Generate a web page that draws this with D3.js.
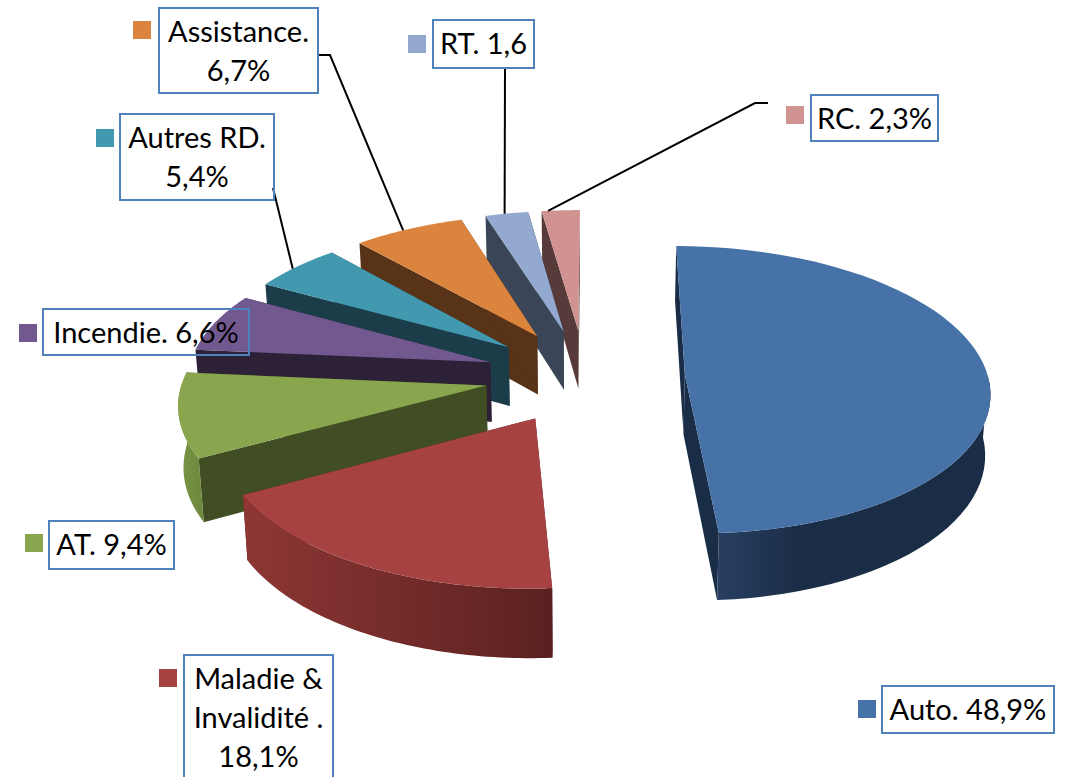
<!DOCTYPE html>
<html>
<head>
<meta charset="utf-8">
<script src="https://cdn.jsdelivr.net/npm/d3@7"></script>
<style>
  html, body { margin: 0; padding: 0; background: #fff; overflow: hidden; }
  text { font-family: Lato, "Open Sans", sans-serif; fill: #000; }
</style>
</head>
<body>
<div id="chart"></div>
<script>
// Chart values, clockwise from twelve o'clock
const categories = ['Auto', 'Maladie & Invalidité', 'AT', 'Incendie', 'Autres RD', 'Assistance', 'RT', 'RC'];
// RT is labelled 1,6 but its slice is drawn wider than RC, about 2,6
const shares = [48.9, 18.1, 9.4, 6.6, 5.4, 6.7, 2.6, 2.3];
const labelLines = [
  ['Auto. 48,9%'],
  ['Maladie &', 'Invalidité .', '18,1%'],
  ['AT. 9,4%'],
  ['Incendie. 6,6%'],
  ['Autres RD.', '5,4%'],
  ['Assistance.', '6,7%'],
  ['RT. 1,6'],
  ['RC. 2,3%']
];

// Office style colours: top face, dark radial face, outer wall light and dark end
const topColors = ['#4672a8', '#a64342', '#89a54e', '#71588f', '#4198af', '#db843d', '#93a9cf', '#d19392'];
const sideColors = ['#1a2d47', '#5a2120', '#414d23', '#2c2137', '#1a3d49', '#593318', '#3a4557', '#573a3a'];
const wallLight = ['#283f62', '#8e3734', '#7a9645', '#5c4775', '#347c8e', '#b56c30', '#7a8cab', '#ac7979'];
const wallDark = ['#1a2d46', '#5a2120', '#6f8a3f', '#4d3b62', '#2c6a79', '#a05f2b', '#6b7b96', '#976a6a'];

// Label boxes, legend keys and leader lines (layout only)
const boxes = [
  { x: 882, y: 686, w: 172, h: 47, kx: 858, ky: 700 },
  { x: 184, y: 655, w: 149, h: 130, kx: 159, ky: 669 },
  { x: 49, y: 521, w: 125, h: 48, kx: 25, ky: 534 },
  { x: 43, y: 309, w: 206, h: 46, kx: 19, ky: 324 },
  { x: 120, y: 114, w: 154, h: 86, kx: 96, ky: 129 },
  { x: 159, y: 8, w: 159, h: 85, kx: 133, ky: 21 },
  { x: 433, y: 20, w: 101, h: 48, kx: 408, ky: 35 },
  { x: 811, y: 95, w: 127, h: 46, kx: 786, ky: 106 }
];
const leaders = [
  { slice: 4, at: 0.45, to: [[273, 188]] },
  { slice: 5, at: 0.45, to: [[330, 55], [318, 55]] },
  { slice: 6, at: 0.45, to: [[505, 68]] },
  { slice: 7, at: 0.17, to: [[755, 103], [768, 103]] }
];

const width = 1068;
const height = 777;
const fontSize = 29;
const lineHeight = 39;
const keySize = 18;

// Pie geometry: radius and explosion in world units, then a small perspective
const radius = 303;
const explode = 100;
const thickness = 60;
const centerX = 585;
const centerY = 376;
const tilt = 0.47;
const perspective = 0.00035;
const depthShrink = 0.00022;
const firstAngle = 0.2 * Math.PI / 180;

function project(x, y, z) {
  const w = 1 + perspective * y;
  return [centerX + x / w * (1 - depthShrink * z), centerY - tilt * y / w + z / w];
}

const arcs = d3.pie()
  .value(d => d)
  .sort(null)
  .startAngle(firstAngle)
  .endAngle(firstAngle + 2 * Math.PI)(shares);

arcs.forEach(d => {
  const mid = (d.startAngle + d.endAngle) / 2;
  d.apexX = explode * Math.sin(mid);
  d.apexY = explode * Math.cos(mid);
});

function rimPoint(d, angle, z) {
  return project(d.apexX + radius * Math.sin(angle), d.apexY + radius * Math.cos(angle), z);
}

function apexPoint(d, z) {
  return project(d.apexX, d.apexY, z);
}

function rimAngles(d) {
  return d3.range(0, 1.0001, 1 / 60).map(t => d.startAngle + t * (d.endAngle - d.startAngle));
}

const polygon = d3.line().curve(d3.curveLinearClosed);

const svg = d3.select('#chart')
  .append('svg')
  .attr('width', width)
  .attr('height', height)
  .style('display', 'block');

const defs = svg.append('defs');
const pieGroup = svg.append('g').attr('class', 'pie');

// Painter's order: far slices first, each with its walls under its top face
arcs.slice().reverse().forEach(d => {
  const i = d.index;
  const g = pieGroup.append('g').attr('class', 'slice');
  const angles = rimAngles(d);

  [d.startAngle, d.endAngle].forEach(angle => {
    g.append('path')
      .attr('fill', sideColors[i])
      .attr('d', polygon([
        apexPoint(d, 0),
        rimPoint(d, angle, 0),
        rimPoint(d, angle, thickness),
        apexPoint(d, thickness)
      ]));
  });

  // Only the part of the rim that faces the viewer has an outer wall
  const front = angles.filter(a => Math.cos(a) < 0.02);
  if (front.length > 1) {
    const wallTop = front.map(a => rimPoint(d, a, 0));
    const wallBottom = front.map(a => rimPoint(d, a, thickness));
    const xs = wallTop.map(p => p[0]);
    const gradient = defs.append('linearGradient')
      .attr('id', `wall-${i}`)
      .attr('gradientUnits', 'userSpaceOnUse')
      .attr('x1', d3.min(xs))
      .attr('x2', d3.max(xs))
      .attr('y1', 0)
      .attr('y2', 0);
    // Auto is lit on its near left end, the others get darker going right
    gradient.append('stop').attr('offset', 0).attr('stop-color', wallLight[i]);
    gradient.append('stop').attr('offset', i === 0 ? 0.3 : 1).attr('stop-color', wallDark[i]);

    g.append('path')
      .attr('fill', `url(#wall-${i})`)
      .attr('d', polygon(wallTop.concat(wallBottom.reverse())));
  }

  g.append('path')
    .attr('fill', topColors[i])
    .attr('d', polygon([apexPoint(d, 0)].concat(angles.map(a => rimPoint(d, a, 0)))));
});

// Leader lines
const leaderLine = d3.line();
leaders.forEach(l => {
  const d = arcs[l.slice];
  const start = rimPoint(d, d.startAngle + l.at * (d.endAngle - d.startAngle), 0);
  svg.append('path')
    .attr('fill', 'none')
    .attr('stroke', '#000')
    .attr('stroke-width', 2)
    .attr('d', leaderLine([start].concat(l.to)));
});

// Labels: transparent boxes, as the Incendie box shows the slice through it
const labels = svg.selectAll('.label')
  .data(categories)
  .enter()
  .append('g')
  .attr('class', 'label');

labels.append('rect')
  .attr('x', (d, i) => boxes[i].kx)
  .attr('y', (d, i) => boxes[i].ky)
  .attr('width', keySize)
  .attr('height', keySize)
  .attr('fill', (d, i) => topColors[i]);

labels.append('rect')
  .attr('x', (d, i) => boxes[i].x)
  .attr('y', (d, i) => boxes[i].y)
  .attr('width', (d, i) => boxes[i].w)
  .attr('height', (d, i) => boxes[i].h)
  .attr('fill', 'none')
  .attr('stroke', '#4f81bd')
  .attr('stroke-width', 2);

labels.each(function (d, i) {
  const b = boxes[i];
  d3.select(this).selectAll('text')
    .data(labelLines[i])
    .enter()
    .append('text')
    .attr('x', b.x + b.w / 2)
    .attr('y', (line, j) => b.y + 34 + j * lineHeight)
    .attr('text-anchor', 'middle')
    .style('font-size', `${fontSize}px`)
    .text(line => line);
});
</script>
</body>
</html>
